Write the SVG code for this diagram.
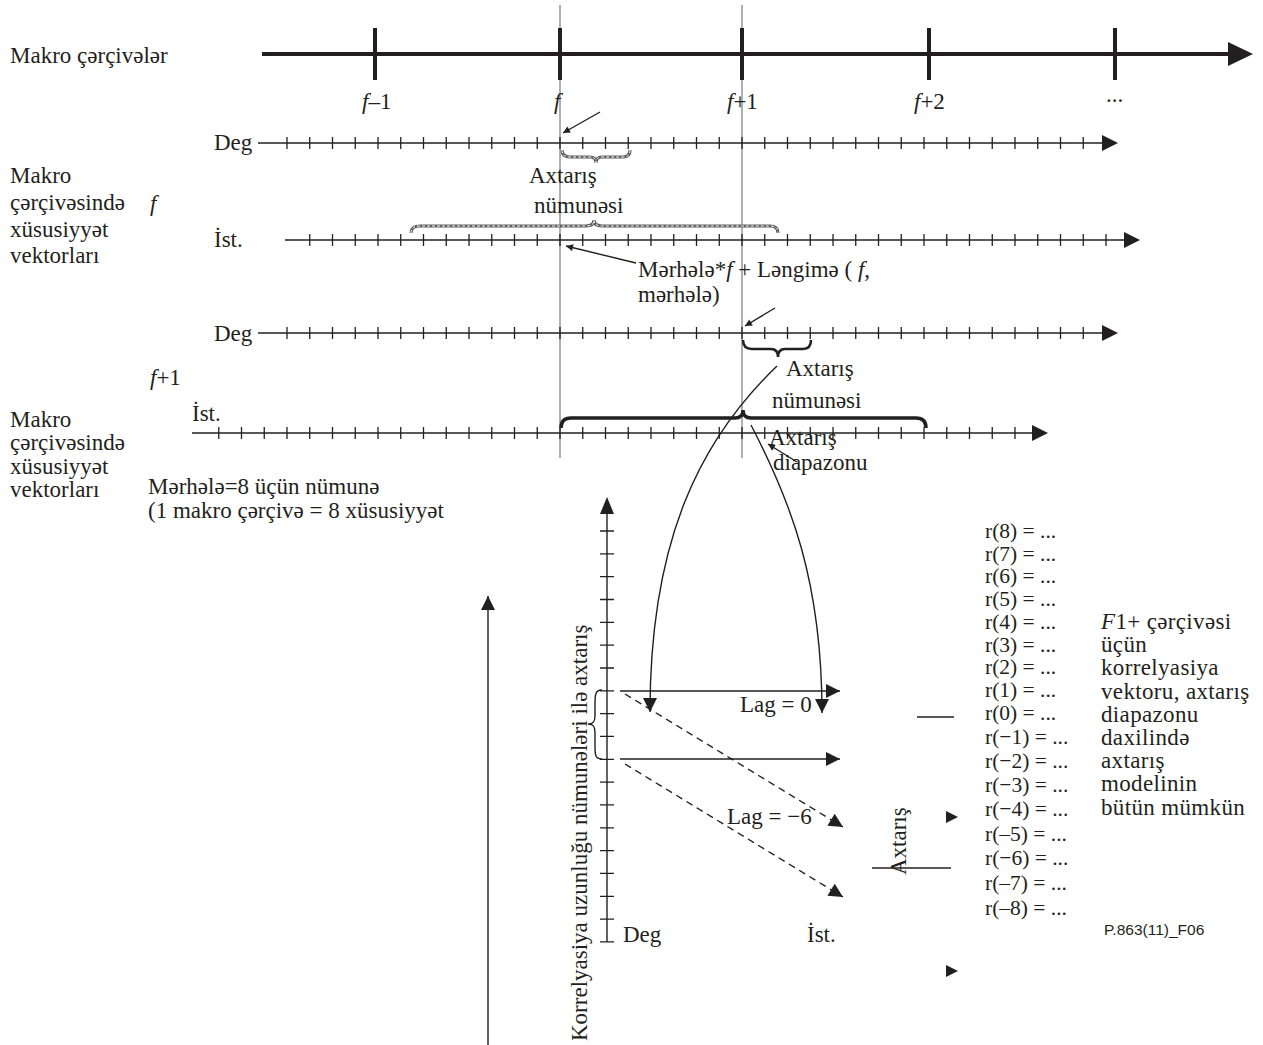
<svg xmlns="http://www.w3.org/2000/svg" width="1263" height="1045" viewBox="0 0 1263 1045">
<style>
.t{font-family:"Liberation Serif","Times New Roman",serif;font-size:23px;fill:#231f20}
.r{font-family:"Liberation Serif","Times New Roman",serif;font-size:21.5px;fill:#231f20}
.w{font-family:"Liberation Serif","Times New Roman",serif;font-size:23px;letter-spacing:0.35px;fill:#231f20}
.i{font-style:italic}
.ln{stroke:#231f20;stroke-width:1.4;fill:none}
.tk{stroke:#231f20;stroke-width:12;stroke-dasharray:1.3 21.45;fill:none}
.gv{stroke:#7a7a7a;stroke-width:1.2;fill:none}
.ah{fill:#231f20}
.db1{stroke:#5e5e5e;stroke-width:3.2;fill:none}
.db2{stroke:#fff;stroke-width:1;stroke-dasharray:3 2;fill:none}
</style>
<defs>
<marker id="m" viewBox="0 0 10 10" refX="10" refY="5" markerWidth="15" markerHeight="14" markerUnits="userSpaceOnUse" orient="auto"><path d="M0,0 L10,5 L0,10 z" fill="#231f20"/></marker>
<marker id="ms" viewBox="0 0 10 10" refX="10" refY="5" markerWidth="9" markerHeight="7" markerUnits="userSpaceOnUse" orient="auto"><path d="M0,0 L10,5 L0,10 z" fill="#231f20"/></marker>
<clipPath id="cd"><rect x="700" y="440" width="200" height="36"/></clipPath>
</defs>

<g id="guides">
<line class="gv" x1="560" y1="5" x2="560" y2="458"/>
<line class="gv" x1="742" y1="5" x2="742" y2="458"/>
</g>

<g id="macro-timeline">
<line x1="262" y1="54" x2="1232" y2="54" stroke="#231f20" stroke-width="4"/>
<polygon class="ah" points="1228,42 1253,54 1228,66"/>
<path d="M375,28V80M560,28V80M742,28V80M929,28V80M1115,28V80" stroke="#231f20" stroke-width="4"/>
<text class="t" x="10" y="63" font-size="23.5">Makro çərçivələr</text>
<text class="t" x="362" y="109"><tspan class="i">f</tspan>–1</text>
<text class="t" x="554" y="109" font-style="italic">f</text>
<text class="t" x="727" y="109"><tspan class="i">f</tspan>+1</text>
<text class="t" x="914" y="109"><tspan class="i">f</tspan>+2</text>
<text class="t" x="1106" y="102">...</text>
</g>

<g id="frame-f">
<text class="t" x="10" y="183">Makro</text>
<text class="t" x="10" y="210">çərçivəsində</text>
<text class="t" x="10" y="237">xüsusiyyət</text>
<text class="t" x="10" y="263">vektorları</text>
<text class="t i" x="150" y="211">f</text>
</g>

<g id="deg-f">
<text class="t" x="214" y="150">Deg</text>
<line class="ln" x1="258" y1="143" x2="1104" y2="143"/>
<line class="tk" x1="286.35" y1="143" x2="1084" y2="143"/>
<polygon class="ah" points="1102,135 1118,143 1102,151"/>
</g>

<g id="ist-f">
<text class="t" x="214" y="247">İst.</text>
<line class="ln" x1="285" y1="240" x2="1126" y2="240"/>
<line class="tk" x1="309.1" y1="240" x2="1107" y2="240"/>
<polygon class="ah" points="1124,232 1140,240 1124,248"/>
</g>

<g id="search-pattern-f">
<path class="db1" d="M562,150 Q562,157 570,157 L590,157 Q596,157 596,163 Q596,157 602,157 L623,157 Q630,157 630,150"/>
<path class="db2" d="M562,150 Q562,157 570,157 L590,157 Q596,157 596,163 Q596,157 602,157 L623,157 Q630,157 630,150"/>
<text class="t" x="529" y="183">Axtarış</text>
<text class="t" x="534" y="213">nümunəsi</text>
<path class="db1" d="M411,233 Q411,226 420,226 L586,226 Q594,226 594,220 Q594,226 602,226 L770,226 Q778,226 778,233"/>
<path class="db2" d="M411,233 Q411,226 420,226 L586,226 Q594,226 594,220 Q594,226 602,226 L770,226 Q778,226 778,233"/>
</g>

<g id="offset-label">
<text class="t" x="638" y="277">Mərhələ*<tspan class="i">f</tspan> + Ləngimə ( <tspan class="i">f</tspan>,</text>
<text class="t" x="638" y="302">mərhələ)</text>
</g>

<g id="deg-f1">
<text class="t" x="214" y="341">Deg</text>
<line class="ln" x1="258" y1="333" x2="1104" y2="333"/>
<line class="tk" x1="286.35" y1="333" x2="1084" y2="333"/>
<polygon class="ah" points="1102,325 1118,333 1102,341"/>
<path d="M743,340 Q743,349 752,349 L771,349 Q778,349 778,357 Q778,349 785,349 L803,349 Q811,349 811,340" stroke="#231f20" stroke-width="2.5" fill="none"/>
<text class="t" x="786" y="376">Axtarış</text>
<text class="t" x="772" y="408">nümunəsi</text>
</g>

<g id="frame-f1">
<text class="t i" x="150" y="385">f<tspan font-style="normal">+1</tspan></text>
<text class="t" x="10" y="427">Makro</text>
<text class="t" x="10" y="450">çərçivəsində</text>
<text class="t" x="10" y="474">xüsusiyyət</text>
<text class="t" x="10" y="497">vektorları</text>
<text class="t" x="148" y="494">Mərhələ=8 üçün nümunə</text>
<text class="t" x="148" y="518">(1 makro çərçivə = 8 xüsusiyyət</text>
</g>

<g id="ist-f1">
<text class="t" x="192" y="421">İst.</text>
<line class="ln" x1="192" y1="433" x2="1034" y2="433"/>
<line class="tk" x1="218.1" y1="433" x2="1016" y2="433"/>
<polygon class="ah" points="1032,425 1048,433 1032,441"/>
<path d="M561,428 Q561,418 571,418 L735,418 Q743,418 743,410 Q743,418 751,418 L916,418 Q926,418 926,428" stroke="#231f20" stroke-width="3.5" fill="none"/>
<text class="t" x="769" y="445">Axtarış</text>
<text class="t" x="773" y="470" clip-path="url(#cd)">diapazonu</text>
</g>

<g id="chart">
<line class="ln" x1="607" y1="510" x2="607" y2="942"/>
<line x1="607" y1="530.35" x2="607" y2="943" stroke="#231f20" stroke-width="14" stroke-dasharray="1.3 21.53"/>
<polygon class="ah" points="600,514 607,497 614,514"/>
<path d="M602,690 C595,690 595,695 595,705 L595,716 C595,722 593,724 588,724 C593,724 595,726 595,732 L595,745 C595,755 595,759 602,759" class="ln" stroke-width="1.8"/>
<text class="t" x="623" y="942">Deg</text>
<text class="t" x="807" y="942">İst.</text>
<text class="t" x="740" y="712">Lag = 0</text>
<text class="t" x="727" y="824">Lag = −6</text>
<text class="t" font-size="23.6" transform="translate(587,1041) rotate(-90)">Korrelyasiya uzunluğu nümunələri ilə axtarış</text>
</g>

<g id="results">
<text class="r" x="985" y="538">r(8) = ...</text>
<text class="r" x="985" y="561">r(7) = ...</text>
<text class="r" x="985" y="583">r(6) = ...</text>
<text class="r" x="985" y="606">r(5) = ...</text>
<text class="r" x="985" y="629">r(4) = ...</text>
<text class="r" x="985" y="652">r(3) = ...</text>
<text class="r" x="985" y="674">r(2) = ...</text>
<text class="r" x="985" y="697">r(1) = ...</text>
<text class="r" x="985" y="720">r(0) = ...</text>
<text class="r" x="985" y="744">r(−1) = ...</text>
<text class="r" x="985" y="768">r(−2) = ...</text>
<text class="r" x="985" y="792">r(−3) = ...</text>
<text class="r" x="985" y="816">r(−4) = ...</text>
<text class="r" x="985" y="841">r(–5) = ...</text>
<text class="r" x="985" y="865">r(−6) = ...</text>
<text class="r" x="985" y="890">r(–7) = ...</text>
<text class="r" x="985" y="915">r(–8) = ...</text>
<text class="w" x="1101" y="629"><tspan class="i">F</tspan>1+ çərçivəsi</text>
<text class="w" x="1101" y="652">üçün</text>
<text class="w" x="1101" y="675">korrelyasiya</text>
<text class="w" x="1101" y="699">vektoru, axtarış</text>
<text class="w" x="1101" y="722">diapazonu</text>
<text class="w" x="1101" y="745">daxilində</text>
<text class="w" x="1101" y="768">axtarış</text>
<text class="w" x="1101" y="791">modelinin</text>
<text class="w" x="1101" y="815">bütün mümkün</text>
<text x="1104" y="935" font-family="Liberation Sans, Arial, sans-serif" font-size="15.5" fill="#231f20">P.863(11)_F06</text>
<text class="t" transform="translate(906,875) rotate(-90)">Axtarış</text>
<line class="ln" x1="917" y1="717" x2="954" y2="717"/>
<line class="ln" x1="872" y1="868" x2="951" y2="868"/>
<polygon class="ah" points="946,811 958,817 946,823"/>
<polygon class="ah" points="946,965 958,971 946,977"/>
</g>

<g id="connectors">
<line class="ln" x1="600" y1="112" x2="563" y2="133" marker-end="url(#ms)"/>
<line class="ln" x1="636" y1="263" x2="566" y2="246" marker-end="url(#ms)"/>
<line class="ln" x1="775" y1="308" x2="745" y2="326" marker-end="url(#ms)"/>
<line class="ln" x1="797" y1="462" x2="768" y2="444" marker-end="url(#ms)"/>
<path class="ln" d="M777,366 C700,440 650,540 650,712" marker-end="url(#m)"/>
<path class="ln" d="M751,425 C790,500 822,580 822,713" marker-end="url(#m)"/>
<line class="ln" x1="620" y1="691" x2="840" y2="691" marker-end="url(#m)"/>
<line class="ln" x1="620" y1="759" x2="840" y2="759" marker-end="url(#m)"/>
<line class="ln" x1="625" y1="694" x2="843" y2="827" stroke-dasharray="7 5" marker-end="url(#m)"/>
<line class="ln" x1="625" y1="764" x2="843" y2="897" stroke-dasharray="7 5" marker-end="url(#m)"/>
<line class="ln" x1="488" y1="1045" x2="488" y2="596" marker-end="url(#m)"/>
</g>
</svg>
